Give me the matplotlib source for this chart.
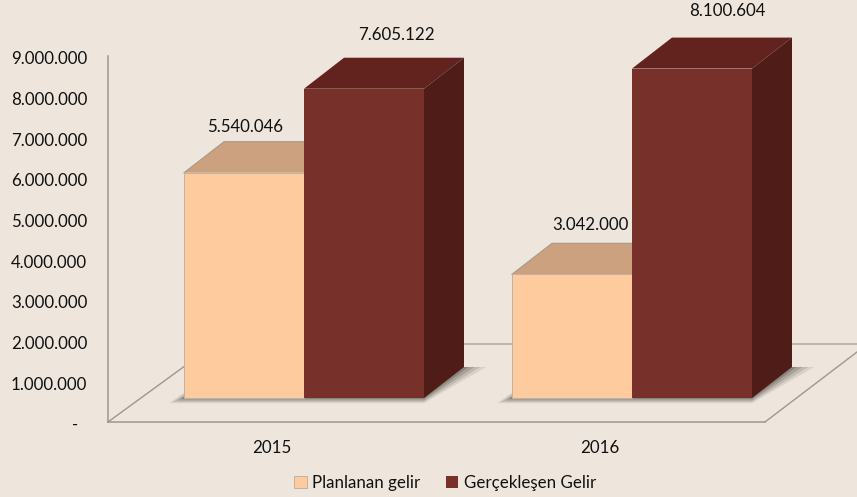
import matplotlib
matplotlib.use("Agg")
import matplotlib.pyplot as plt
from matplotlib.transforms import ScaledTranslation
import numpy as np

years = ["2015", "2016"]
planlanan = [5540046, 3042000]
gerceklesen = [7605122, 8100604]
yticks = [0, 1000000, 2000000, 3000000, 4000000, 5000000, 6000000, 7000000, 8000000, 9000000]

bg = "#EEE6DC"
peach = ["#FECB9F", "#CBA17F"]
red = ["#78302B", "#62231F", "#4F1C18"]
grid = "#9C9790"

plt.rcParams["font.family"] = ["Lato", "DejaVu Sans"]

W, H = 857, 497
fs = 12.2
fig = plt.figure(figsize=(W / 100, H / 100), dpi=100, facecolor=bg)
# axes box = the 3d wall, left/bottom spines are the front edges
ax = fig.add_axes([108 / W, (H - 422) / H, (W - 108) / W, 366 / H], facecolor="none")

px_x = 328  # pixels per category
px_y = 366 / 9000000  # pixels per unit
ax.set_xlim((108 - 304) / px_x, (857 - 304) / px_x)
ax.set_ylim(0, 9000000)

bw = 120 / px_x
dx = 40 / px_x
dy = 31 / px_y
base = 24 / px_y


def fmt(v):
    return f"{v:,}".replace(",", ".") if v else "-  "


# floor
fx0, fx1 = ax.get_xlim()
back = 78 / px_y
fx_front = (765 - 304) / px_x
ax.plot([fx0, fx0 + 107 / px_x], [0, back], color=grid, lw=1, clip_on=False, zorder=1)
ax.plot([fx0 + 107 / px_x, fx1], [back, back], color="#BDB7AE", lw=1.5, clip_on=False, zorder=1)
ax.plot([fx_front, fx1], [0, 70 / px_y], color=grid, lw=1, clip_on=False, zorder=1)

x = np.arange(len(years))

# soft shadow on the floor
for g, alpha in zip([15, 11, 7, 3], [0.12, 0.18, 0.25, 0.35]):
    for c in x:
        low = base - (g * 0.35) / px_y
        left = c - bw - g / px_x
        ax.fill([left, c + bw, c + bw + dx + g * 1.5 / px_x, left + 50 / px_x],
                [low, low, base + dy, base + dy],
                color="#55504A", alpha=alpha, lw=0, zorder=1.5, clip_on=False)

# planned bars with top face
for c, v in zip(x, planlanan):
    top = base + v
    ax.fill([c - bw, c, c + dx, c - bw + dx], [top, top, top + dy, top + dy],
            color=peach[1], lw=0, zorder=2, clip_on=False)
    ax.plot([c - bw, c - bw + dx, c], [top, top + dy, top + dy], color="#A89A8C", lw=0.8, zorder=2.1, clip_on=False)
b1 = ax.bar(x - bw / 2, planlanan, bw, bottom=base, color=peach[0], edgecolor="#BFB2A4", lw=0.7,
            zorder=3, clip_on=False, label="Planlanan gelir")

# realised bars with top and side faces
for c, v in zip(x, gerceklesen):
    top = base + v
    ax.fill([c, c + bw, c + bw + dx, c + dx], [top, top, top + dy, top + dy],
            color=red[1], lw=0, zorder=4, clip_on=False)
    ax.fill([c + bw, c + bw + dx, c + bw + dx, c + bw], [base, base + dy, top + dy, top],
            color=red[2], lw=0, zorder=4, clip_on=False)
b2 = ax.bar(x + bw / 2, gerceklesen, bw, bottom=base, color=red[0], lw=0,
            zorder=5, clip_on=False, label="Gerçekleşen Gelir")

# value labels, offsets in pixels from the front face centre
for c, v, off in zip(x, planlanan, [(1, 46), (18, 49)]):
    ax.annotate(fmt(v), (c - bw / 2, base + v), xytext=off, textcoords="offset pixels",
                ha="center", va="center", fontsize=fs, color="#111111", zorder=6, annotation_clip=False)
for c, v, off in zip(x, gerceklesen, [(32, 54), (35, 58)]):
    ax.annotate(fmt(v), (c + bw / 2, base + v), xytext=off, textcoords="offset pixels",
                ha="center", va="center", fontsize=fs, color="#111111", zorder=6, annotation_clip=False)

ax.set_yticks(yticks)
ax.set_yticklabels([fmt(v) for v in yticks], fontsize=fs, color="#111111")
ax.set_xticks(x - 32 / px_x)
ax.set_xticklabels(years, fontsize=fs, color="#111111")
ax.tick_params(axis="y", length=0, pad=15)
ax.tick_params(axis="x", length=0, pad=13)

# tick labels sit 2px under the gridline position
shift = ScaledTranslation(0, -2 / 100, fig.dpi_scale_trans)
for label in ax.get_yticklabels():
    label.set_transform(label.get_transform() + shift)

for s in ["top", "right"]:
    ax.spines[s].set_visible(False)
ax.spines["left"].set_color(grid)
ax.spines["bottom"].set_color(grid)
ax.spines["left"].set_linewidth(1.1)
ax.spines["bottom"].set_linewidth(1.1)
ax.spines["bottom"].set_bounds(fx0, fx_front)

fig.legend(handles=[b1, b2], loc="center", bbox_to_anchor=(445 / W, (H - 483) / H), ncol=2, frameon=False,
           fontsize=fs, handlelength=0.75, handleheight=0.75, handletextpad=0.3, columnspacing=1.5,
           labelcolor="#111111")

fig.savefig("out.png", dpi=100, facecolor=bg)
